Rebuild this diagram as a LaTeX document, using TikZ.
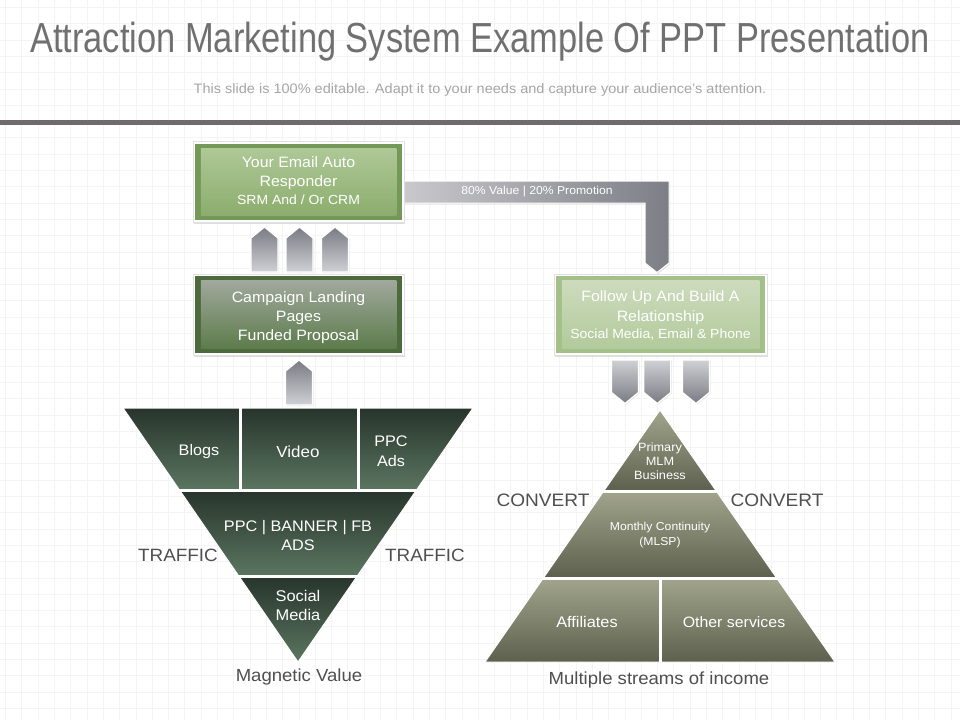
\documentclass[tikz,border=0pt]{standalone}
\usepackage{fontspec}
\setmainfont[FakeStretch=1.06]{Liberation Sans}
\newfontfamily\titlefont[FakeStretch=0.82]{Liberation Sans}
\usetikzlibrary{calc,shadows}
\definecolor{titlegray}{HTML}{707070}
\definecolor{subgray}{HTML}{A6A6A6}
\definecolor{bargray}{HTML}{6F6B6C}
\definecolor{gridgray}{HTML}{F4F4F4}
\definecolor{arrdark}{HTML}{7A7B83}
\definecolor{arrlight}{HTML}{D0D1D5}
\definecolor{bandlight}{HTML}{CACACE}
\definecolor{banddark}{HTML}{7D7E86}
\definecolor{emframe}{HTML}{749857}
\definecolor{emtop}{HTML}{AEC897}
\definecolor{embot}{HTML}{8CAD6D}
\definecolor{cpframe}{HTML}{4C6A3C}
\definecolor{cptop}{HTML}{A0A89C}
\definecolor{cpbot}{HTML}{5D7C4C}
\definecolor{fuframe}{HTML}{A4C089}
\definecolor{futop}{HTML}{CDDBBD}
\definecolor{fubot}{HTML}{B3CA9C}
\definecolor{funtop}{HTML}{27342B}
\definecolor{funbot}{HTML}{5B7661}
\definecolor{pyrtop}{HTML}{A2A58C}
\definecolor{pyrbot}{HTML}{5D604D}
\definecolor{labgray}{HTML}{4F4F4F}
\newcommand{\myUpArrow}[3]{%
  \path[blockarrow, top color=arrdark, bottom color=arrlight]
    (#1-13.5,#3) -- (#1-13.5,#2+11) -- (#1,#2) -- (#1+13.5,#2+11) -- (#1+13.5,#3) -- cycle;}
\newcommand{\myDownArrow}[3]{%
  \path[blockarrow, top color=arrlight, bottom color=arrdark]
    (#1-13.5,#2) -- (#1+13.5,#2) -- (#1+13.5,#3-11) -- (#1,#3) -- (#1-13.5,#3-11) -- cycle;}
\begin{document}
\begin{tikzpicture}[x=1pt,y=-1pt,
  lbl/.style={text=labgray, inner sep=0, font=\fontsize{17.8}{20}\selectfont},
  wt/.style={text=white, align=center, inner sep=0},
  outerbox/.style={fill=white, draw=black!12, line width=0.5, minimum height=81, inner sep=0,
    drop shadow={opacity=0.25, shadow xshift=1.2pt, shadow yshift=-1.5pt}},
  blockarrow/.style={draw=white, line width=1.3,
    drop shadow={opacity=0.2, shadow xshift=1pt, shadow yshift=-1pt}},
  sep/.style={draw=white, line width=3}]
\useasboundingbox (0,0) rectangle (960,720);
\fill[white] (0,0) rectangle (960,720);
\foreach \g in {0,...,58} \draw[gridgray, line width=0.5] ({\g*16.3+5.4},0) -- ({\g*16.3+5.4},720);
\foreach \g in {0,...,44} \draw[gridgray, line width=0.5] (0,{\g*16.3+7.3}) -- (960,{\g*16.3+7.3});

% title
\node[anchor=base, text=titlegray, inner sep=0, font=\titlefont\fontsize{42}{48}\selectfont] (title) at (480,52)
  {Attraction Marketing System Example Of PPT Presentation};
\node[anchor=base, text=subgray, inner sep=0, font=\fontsize{13.7}{15}\selectfont] (subtitle) at (480,93)
  {This slide is 100\% editable. Adapt it to your needs and capture your audience's attention.};
\fill[bargray] (0,119.5) rectangle (960,124.5);

% connector band
\path[draw=white, line width=1, left color=bandlight, right color=banddark,
  drop shadow={opacity=0.2, shadow xshift=1pt, shadow yshift=-1.5pt}]
  (400,181) -- (669,181) -- (669,263) -- (657,272.5) -- (645,263) -- (645,203) -- (400,203) -- cycle;
\node[wt, font=\fontsize{11.5}{13}\selectfont] (bandlbl) at (537,192) {80\% Value | 20\% Promotion};

% email box
\node[outerbox, minimum width=211] (email) at (298.5,182) {};
\fill[emframe] ($(email.north west)+(2.5,2.5)$) rectangle ($(email.south east)+(-2.5,-2.5)$);
\shade[top color=emtop, bottom color=embot] ($(email.north west)+(8,7)$) rectangle ($(email.south east)+(-8,-7)$);
\node[wt, font=\fontsize{15}{19}\selectfont] (emailtxt) at (298.5,173) {Your Email Auto\\Responder};
\node[wt, font=\fontsize{13.2}{14}\selectfont] (emailsub) at (298.5,199.5) {SRM And / Or CRM};

% campaign box
\node[outerbox, minimum width=211] (camp) at (298.5,314.5) {};
\fill[cpframe] ($(camp.north west)+(2.5,2.5)$) rectangle ($(camp.south east)+(-2.5,-2.5)$);
\shade[top color=cptop, bottom color=cpbot] ($(camp.north west)+(8,7)$) rectangle ($(camp.south east)+(-8,-7)$);
\node[wt, font=\fontsize{15}{19}\selectfont] (camptxt) at (298.5,318) {Campaign Landing\\Pages\\Funded Proposal};

% follow up box
\node[outerbox, minimum width=213] (follow) at (660.5,314.5) {};
\fill[fuframe] ($(follow.north west)+(2.5,2.5)$) rectangle ($(follow.south east)+(-2.5,-2.5)$);
\shade[top color=futop, bottom color=fubot] ($(follow.north west)+(8,7)$) rectangle ($(follow.south east)+(-8,-7)$);
\node[wt, font=\fontsize{15}{20}\selectfont] (followtxt) at (660.5,307.5) {Follow Up And Build A\\Relationship};
\node[wt, font=\fontsize{13.2}{14}\selectfont] (followsub) at (660.5,334.5) {Social Media, Email \& Phone};

% block arrows
\myUpArrow{264.5}{227}{272}
\myUpArrow{299.5}{227}{272}
\myUpArrow{335}{227}{272}
\myUpArrow{299}{360}{405}
\myDownArrow{625}{360}{403.5}
\myDownArrow{657.3}{360}{403.5}
\myDownArrow{696}{360}{403.5}

% funnel
\shade[top color=funtop, bottom color=funbot] (123,408) -- (473,408) -- (416.5,490) -- (179.5,490) -- cycle;
\shade[top color=funtop, bottom color=funbot] (179.5,490) -- (416.5,490) -- (357.3,576) -- (238.7,576) -- cycle;
\shade[top color=funtop, bottom color=funbot] (238.7,576) -- (357.3,576) -- (298,662) -- cycle;
\draw[sep] (176,490) -- (420,490);
\draw[sep] (235,576) -- (361,576);
\draw[sep] (240,408) -- (240,490);
\draw[sep] (358.5,408) -- (358.5,490);
\draw[white, line width=1] (123,408) -- (473,408) -- (298,662) -- cycle;
\node[wt, font=\fontsize{15.3}{20}\selectfont] (blogs) at (199,452) {Blogs};
\node[wt, font=\fontsize{16}{20}\selectfont] (video) at (298,452) {Video};
\node[wt, font=\fontsize{15.3}{20}\selectfont] (ppc) at (391,451) {PPC\\Ads};
\node[wt, font=\fontsize{15.3}{19}\selectfont] (banner) at (298,535.5) {PPC | BANNER | FB\\ADS};
\node[wt, font=\fontsize{15.5}{19}\selectfont] (social) at (298,605.5) {Social\\Media};
\node[lbl] (trafficl) at (178,555) {TRAFFIC};
\node[lbl] (trafficr) at (425,555) {TRAFFIC};
\node[lbl, font=\fontsize{17.5}{19}\selectfont] (magnetic) at (299,677) {Magnetic Value};

% pyramid
\shade[top color=pyrtop, bottom color=pyrbot] (660,410) -- (716.25,491) -- (603.75,491) -- cycle;
\shade[top color=pyrtop, bottom color=pyrbot] (603.75,491) -- (716.25,491) -- (776.7,578) -- (543.3,578) -- cycle;
\shade[top color=pyrtop, bottom color=pyrbot] (543.3,578) -- (776.7,578) -- (835,662) -- (485,662) -- cycle;
\draw[sep] (600,491) -- (720,491);
\draw[sep] (540,578) -- (780,578);
\draw[sep] (660,578) -- (660,662);
\draw[white, line width=1] (660,410) -- (835,662) -- (485,662) -- cycle;
\node[wt, font=\fontsize{12}{14}\selectfont] (primary) at (660,461) {Primary\\MLM\\Business};
\node[wt, font=\fontsize{11.5}{15}\selectfont] (monthly) at (660,535.5) {Monthly Continuity\\(MLSP)};
\node[wt, font=\fontsize{15.4}{18}\selectfont] (affil) at (587,622) {Affiliates};
\node[wt, font=\fontsize{15}{18}\selectfont] (other) at (734,622) {Other services};
\node[lbl, font=\fontsize{18}{20}\selectfont] (convl) at (543,500) {CONVERT};
\node[lbl, font=\fontsize{18}{20}\selectfont] (convr) at (777,500) {CONVERT};
\node[lbl, font=\fontsize{17.5}{19}\selectfont] (income) at (659,680) {Multiple streams of income};
\end{tikzpicture}
\end{document}
